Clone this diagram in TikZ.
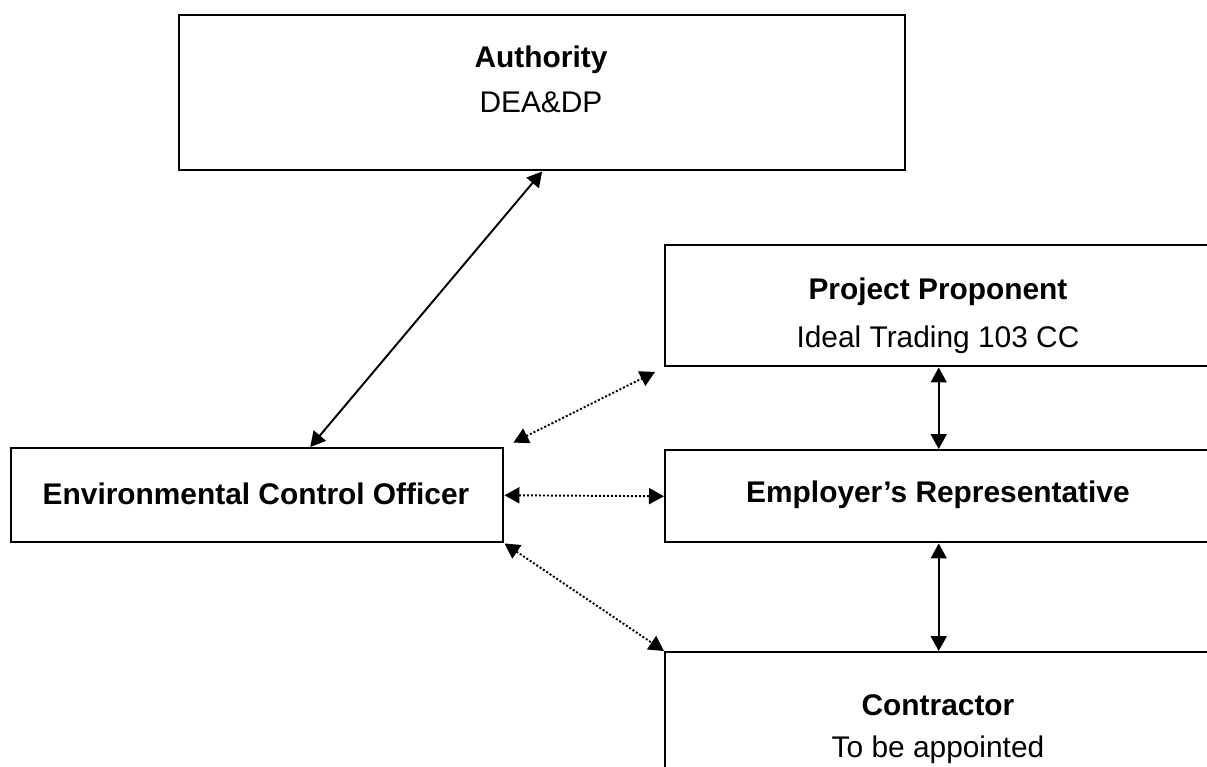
\documentclass[tikz,border=0pt]{standalone}
\usepackage{fontspec}
\setmainfont{Liberation Sans}
\usetikzlibrary{arrows.meta}

\tikzset{
  box/.style={draw, line width=0.7pt, anchor=north west, inner sep=0pt},
  head/.style={font=\fontsize{8.5}{10}\selectfont\bfseries},
  sub/.style={font=\fontsize{8.5}{10}\selectfont},
  link/.style={line width=0.55pt, {Triangle[length=1.5mm,width=1.6mm]}-{Triangle[length=1.5mm,width=1.6mm]}},
  dotlink/.style={link, dash pattern=on 0.2mm off 0.2mm},
}

\begin{document}
\begin{tikzpicture}[x=0.1mm,y=-0.1mm]

\clip (0,0) rectangle (1207,766);
\fill[white] (0,0) rectangle (1207,766);

% Draw boxes
\node[box, minimum width=72.6mm, minimum height=15.5mm] (auth) at (178,14) {};
\node[box, minimum width=54.7mm, minimum height=12.1mm] (pp) at (664,244) {};
\node[box, minimum width=49.2mm, minimum height=9.4mm] (eco) at (10,447) {};
\node[box, minimum width=54.7mm, minimum height=9.2mm] (er) at (664,449) {};
\node[box, minimum width=54.7mm, minimum height=12.1mm] (con) at (664,651) {};

% Box texts
\node[head] (authName) at (541,60) {Authority};
\node[sub] (authSub) at (541,102) {DEA\&DP};
\node[head] (ppName) at (938,292) {Project Proponent};
\node[sub] (ppSub) at (938,340) {Ideal Trading 103 CC};
\node[head] (ecoName) at (256,494) {Environmental Control Officer};
\node[head] (erName) at (938,495) {Employer’s Representative};
\node[head] (conName) at (938,705) {Contractor};
\node[sub] (conSub) at (938,750) {To be appointed};

% Reporting lines
\draw[link] ([xshift=5.3mm]eco.north) -- (auth.south);
\draw[link] (pp.south) -- (er.north);
\draw[link] (er.south) -- (con.north);

% Communication lines
\draw[dotlink, shorten <=1mm, shorten >=1mm] (eco.north east) -- (pp.south west);
\draw[dotlink] (eco.east) -- (er.west);
\draw[dotlink] (eco.south east) -- (con.north west);

\end{tikzpicture}
\end{document}
